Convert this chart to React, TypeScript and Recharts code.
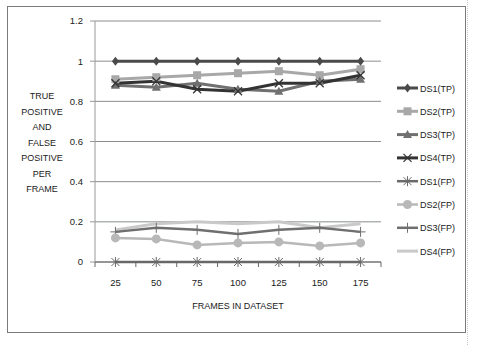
import React from 'react';
import { LineChart, Line, XAxis, YAxis, CartesianGrid } from 'recharts';

const categories = ['25', '50', '75', '100', '125', '150', '175'];
const ds1Tp = [1, 1, 1, 1, 1, 1, 1];
const ds2Tp = [0.91, 0.92, 0.93, 0.94, 0.95, 0.93, 0.96];
const ds3Tp = [0.88, 0.87, 0.89, 0.86, 0.85, 0.9, 0.91];
const ds4Tp = [0.89, 0.9, 0.86, 0.85, 0.89, 0.89, 0.93];
const ds1Fp = [0, 0, 0, 0, 0, 0, 0];
const ds2Fp = [0.12, 0.115, 0.085, 0.095, 0.1, 0.08, 0.095];
const ds3Fp = [0.15, 0.17, 0.16, 0.14, 0.16, 0.17, 0.15];
const ds4Fp = [0.16, 0.19, 0.2, 0.19, 0.2, 0.17, 0.19];
const yTicks = [0, 0.2, 0.4, 0.6, 0.8, 1, 1.2];
const yLabelLines = ['TRUE', 'POSITIVE', 'AND', 'FALSE', 'POSITIVE', 'PER', 'FRAME'];

const data = categories.map((frames, i) => ({
  frames,
  ds1Tp: ds1Tp[i],
  ds2Tp: ds2Tp[i],
  ds3Tp: ds3Tp[i],
  ds4Tp: ds4Tp[i],
  ds1Fp: ds1Fp[i],
  ds2Fp: ds2Fp[i],
  ds3Fp: ds3Fp[i],
  ds4Fp: ds4Fp[i],
}));

type Shape = 'diamond' | 'square' | 'triangle' | 'x' | 'asterisk' | 'circle' | 'plus' | 'none';

// drawn bottom to top
const series: { key: string; name: string; color: string; width: number; shape: Shape }[] = [
  { key: 'ds4Fp', name: 'DS4(FP)', color: '#c9c9c9', width: 3, shape: 'none' },
  { key: 'ds3Fp', name: 'DS3(FP)', color: '#6f6f6f', width: 2.5, shape: 'plus' },
  { key: 'ds2Fp', name: 'DS2(FP)', color: '#b8b8b8', width: 2.5, shape: 'circle' },
  { key: 'ds1Fp', name: 'DS1(FP)', color: '#6a6a6a', width: 2.5, shape: 'asterisk' },
  { key: 'ds2Tp', name: 'DS2(TP)', color: '#a8a8a8', width: 3, shape: 'square' },
  { key: 'ds3Tp', name: 'DS3(TP)', color: '#707070', width: 3, shape: 'triangle' },
  { key: 'ds4Tp', name: 'DS4(TP)', color: '#333333', width: 3, shape: 'x' },
  { key: 'ds1Tp', name: 'DS1(TP)', color: '#4a4a4a', width: 3, shape: 'diamond' },
];
const legendOrder = ['ds1Tp', 'ds2Tp', 'ds3Tp', 'ds4Tp', 'ds1Fp', 'ds2Fp', 'ds3Fp', 'ds4Fp'];

const FONT = "'Liberation Sans', Arial, sans-serif";
const FS = 9;
const W = 484;
const H = 362;
const M = { top: 21, right: 103, bottom: 75, left: 65 };
const Y_AXIS_W = 30;
const PLOT_W = W - M.left - M.right - Y_AXIS_W;
const STEP = PLOT_W / categories.length;

const Marker = ({ shape, cx, cy, color }: { shape: Shape; cx: number; cy: number; color: string }) => {
  switch (shape) {
    case 'diamond':
      return <polygon points={`${cx},${cy - 4.5} ${cx + 3.5},${cy} ${cx},${cy + 4.5} ${cx - 3.5},${cy}`} fill={color} />;
    case 'square':
      return <rect x={cx - 4} y={cy - 4} width={8} height={8} fill={color} />;
    case 'triangle':
      return <polygon points={`${cx},${cy - 4.5} ${cx + 4.5},${cy + 3.5} ${cx - 4.5},${cy + 3.5}`} fill={color} />;
    case 'circle':
      return <circle cx={cx} cy={cy} r={4.5} fill={color} />;
    case 'x':
      return (
        <g stroke={color} strokeWidth={1.2}>
          <line x1={cx - 4} y1={cy - 4} x2={cx + 4} y2={cy + 4} />
          <line x1={cx - 4} y1={cy + 4} x2={cx + 4} y2={cy - 4} />
        </g>
      );
    case 'asterisk':
      return (
        <g stroke={color} strokeWidth={1}>
          <line x1={cx - 4} y1={cy - 4} x2={cx + 4} y2={cy + 4} />
          <line x1={cx - 4} y1={cy + 4} x2={cx + 4} y2={cy - 4} />
          <line x1={cx} y1={cy - 5} x2={cx} y2={cy + 5} />
        </g>
      );
    case 'plus':
      return (
        <g stroke={color} strokeWidth={1}>
          <line x1={cx - 5} y1={cy} x2={cx + 5} y2={cy} />
          <line x1={cx} y1={cy - 5} x2={cx} y2={cy + 5} />
        </g>
      );
    default:
      return null;
  }
};

const XTick = (props: any) => {
  const { x, y, payload, index } = props;
  return (
    <g>
      <line x1={x - STEP / 2} y1={y} x2={x - STEP / 2} y2={y + 5} stroke="#666" />
      {index === categories.length - 1 && <line x1={x + STEP / 2} y1={y} x2={x + STEP / 2} y2={y + 5} stroke="#666" />}
      <text x={x} y={y + 24} textAnchor="middle" fontSize={FS + 0.5} fill="#222" fontFamily={FONT}>
        {payload.value}
      </text>
    </g>
  );
};

export default function App() {
  return (
    <div style={{ position: 'absolute', left: 0, top: 0, width: W, height: H, background: '#fff' }}>
      <div style={{ position: 'absolute', left: 7, top: 6, width: 457, height: 325, border: '1px solid #7a7a7a' }} />
      <div style={{ position: 'absolute', left: 467, top: 0, width: 0, height: 345, borderLeft: '1px dotted #c8c8c8' }} />
      <div style={{ position: 'absolute', left: 0, top: 0 }}>
        <LineChart width={W} height={H} data={data} margin={M}>
          <CartesianGrid vertical={false} stroke="#8a8f8a" />
          <XAxis
            dataKey="frames"
            tick={<XTick />}
            tickLine={false}
            tickSize={0}
            tickMargin={0}
            axisLine={{ stroke: '#666' }}
            interval={0}
            height={25}
            padding={{ left: STEP / 2, right: STEP / 2 }}
          />
          <YAxis
            domain={[0, 1.2]}
            ticks={yTicks}
            width={Y_AXIS_W}
            tickSize={5}
            tickMargin={7}
            axisLine={{ stroke: '#999' }}
            tickLine={{ stroke: '#999' }}
            tick={{ fontSize: FS + 0.5, fill: '#222', fontFamily: FONT }}
            interval={0}
          />
          {series.map((s) => (
            <Line
              key={s.key}
              dataKey={s.key}
              name={s.name}
              stroke={s.color}
              strokeWidth={s.width}
              isAnimationActive={false}
              activeDot={false}
              dot={(p: any) => <Marker key={`${s.key}-${p.index}`} shape={s.shape} cx={p.cx} cy={p.cy} color={s.color} />}
            />
          ))}
        </LineChart>
      </div>
      <div
        style={{
          position: 'absolute',
          left: 12,
          top: 89,
          width: 60,
          textAlign: 'center',
          fontFamily: FONT,
          fontSize: FS,
          lineHeight: '15.5px',
          color: '#222',
        }}
      >
        {yLabelLines.map((l, i) => (
          <div key={i}>{l}</div>
        ))}
      </div>
      <div
        style={{
          position: 'absolute',
          left: M.left + Y_AXIS_W,
          width: PLOT_W,
          top: 301,
          textAlign: 'center',
          fontFamily: FONT,
          fontSize: FS,
          color: '#222',
        }}
      >
        FRAMES IN DATASET
      </div>
      <svg style={{ position: 'absolute', left: 0, top: 0 }} width={W} height={H}>
        {legendOrder.map((k, i) => {
          const s = series.find((e) => e.key === k)!;
          const cy = 88 + i * 23.3;
          return (
            <g key={k}>
              <line x1={397} y1={cy} x2={418} y2={cy} stroke={s.color} strokeWidth={s.width} />
              <Marker shape={s.shape} cx={407.5} cy={cy} color={s.color} />
              <text x={420} y={cy + 3.5} fontSize={FS} fill="#222" fontFamily={FONT}>
                {s.name}
              </text>
            </g>
          );
        })}
      </svg>
    </div>
  );
}
